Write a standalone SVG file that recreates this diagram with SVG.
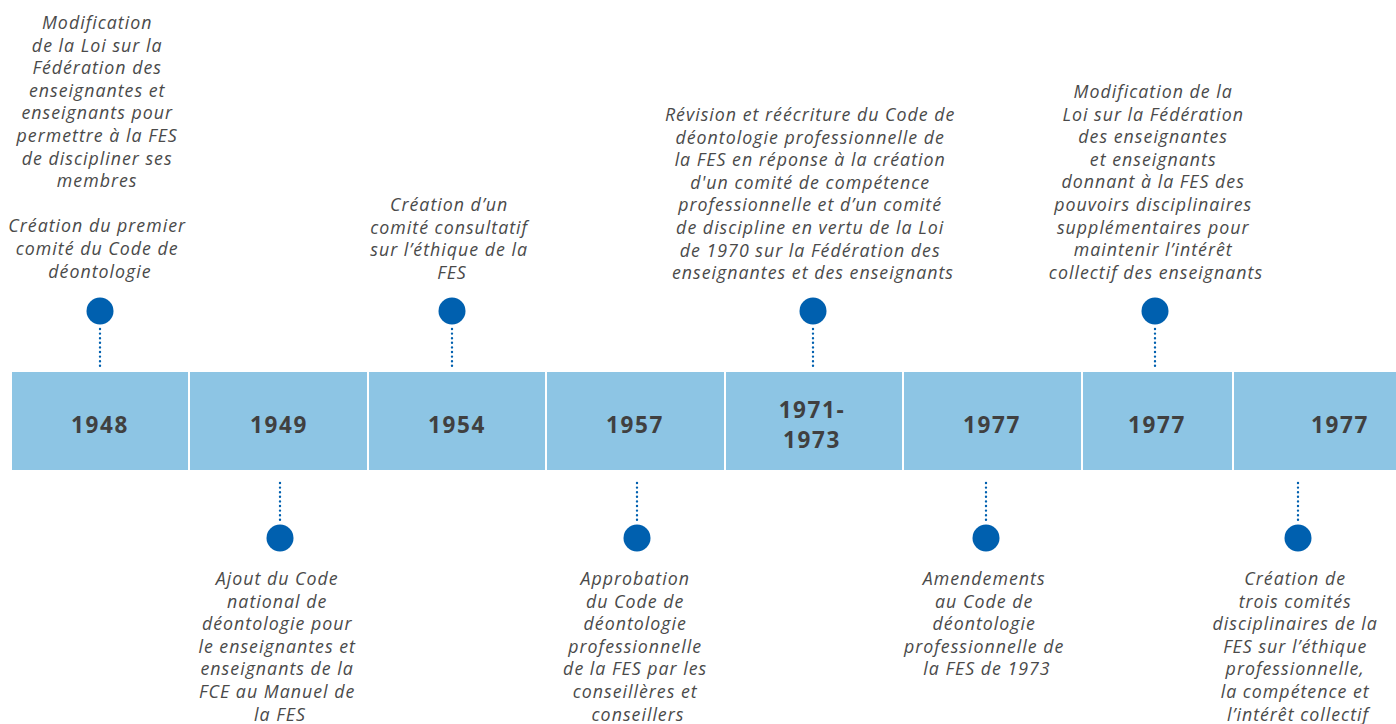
<svg xmlns="http://www.w3.org/2000/svg" width="1396" height="724" viewBox="0 0 1396 724">
<style>
.seg{fill:#8DC5E4}
.yr{font-family:"Open Sans","Liberation Sans",sans-serif;font-weight:700;font-size:22.5px;fill:#404040;text-anchor:middle;letter-spacing:1.6px}
.t{font-family:"Open Sans","Liberation Sans",sans-serif;font-style:italic;font-size:17.8px;fill:#4a4a4a;text-anchor:middle;letter-spacing:1px}
.dot{fill:#0060AF}
.con{stroke:#0060AF;stroke-width:2.4;stroke-dasharray:0 4.6;stroke-linecap:round;fill:none}
</style>
<rect width="1396" height="724" fill="#fff"/>
<g id="band">
<rect class="seg" x="12" y="372" width="176" height="98"/>
<rect class="seg" x="190" y="372" width="177" height="98"/>
<rect class="seg" x="369" y="372" width="176" height="98"/>
<rect class="seg" x="547" y="372" width="177" height="98"/>
<rect class="seg" x="726" y="372" width="176" height="98"/>
<rect class="seg" x="904" y="372" width="177" height="98"/>
<rect class="seg" x="1083" y="372" width="149" height="98"/>
<rect class="seg" x="1234" y="372" width="162" height="98"/>
</g>
<g id="connectors">
<line class="con" x1="100" y1="329" x2="100" y2="367"/>
<line class="con" x1="452" y1="329" x2="452" y2="367"/>
<line class="con" x1="813" y1="329" x2="813" y2="367"/>
<line class="con" x1="1155" y1="329" x2="1155" y2="367"/>
<line class="con" x1="280" y1="483" x2="280" y2="521"/>
<line class="con" x1="637" y1="483" x2="637" y2="521"/>
<line class="con" x1="986" y1="483" x2="986" y2="521"/>
<line class="con" x1="1298" y1="483" x2="1298" y2="521"/>
</g>
<g id="n1948">
<text class="yr" x="100" y="433">1948</text>
<circle class="dot" cx="100" cy="311" r="13.5"/>
<text class="t" x="100" y="29">
<tspan x="100">Modification</tspan>
<tspan x="100" dy="22.6">de la Loi sur la</tspan>
<tspan x="100" dy="22.6">Fédération des</tspan>
<tspan x="100" dy="22.6">enseignantes et</tspan>
<tspan x="100" dy="22.6">enseignants pour</tspan>
<tspan x="100" dy="22.6">permettre à la FES</tspan>
<tspan x="100" dy="22.6">de discipliner ses</tspan>
<tspan x="100" dy="22.6">membres</tspan>
<tspan x="100" dy="45.2">Création du premier</tspan>
<tspan x="100" dy="22.6">comité du Code de</tspan>
<tspan x="100" dy="22.6">déontologie</tspan>
</text>
</g>
<g id="n1949">
<text class="yr" x="279" y="433">1949</text>
<circle class="dot" cx="280" cy="538" r="13.5"/>
<text class="t" x="280" y="585">
<tspan x="280">Ajout du Code</tspan>
<tspan x="280" dy="22.6">national de</tspan>
<tspan x="280" dy="22.6">déontologie pour</tspan>
<tspan x="280" dy="22.6">le enseignantes et</tspan>
<tspan x="280" dy="22.6">enseignants de la</tspan>
<tspan x="280" dy="22.6">FCE au Manuel de</tspan>
<tspan x="280" dy="22.6">la FES</tspan>
</text>
</g>
<g id="n1954">
<text class="yr" x="457" y="433">1954</text>
<circle class="dot" cx="452" cy="311" r="13.5"/>
<text class="t" x="452" y="211">
<tspan x="452">Création d’un</tspan>
<tspan x="452" dy="22.6">comité consultatif</tspan>
<tspan x="452" dy="22.6">sur l’éthique de la</tspan>
<tspan x="452" dy="22.6">FES</tspan>
</text>
</g>
<g id="n1957">
<text class="yr" x="635" y="433">1957</text>
<circle class="dot" cx="637" cy="538" r="13.5"/>
<text class="t" x="638" y="585">
<tspan x="638">Approbation</tspan>
<tspan x="638" dy="22.6">du Code de</tspan>
<tspan x="638" dy="22.6">déontologie</tspan>
<tspan x="638" dy="22.6">professionnelle</tspan>
<tspan x="638" dy="22.6">de la FES par les</tspan>
<tspan x="638" dy="22.6">conseillères et</tspan>
<tspan x="638" dy="22.6">conseillers</tspan>
</text>
</g>
<g id="n1971">
<text class="yr" x="812" y="418">1971-</text>
<text class="yr" x="812" y="448">1973</text>
<circle class="dot" cx="813" cy="311" r="13.5"/>
<text class="t" x="813" y="121">
<tspan x="813">Révision et réécriture du Code de</tspan>
<tspan x="813" dy="22.6">déontologie professionnelle de</tspan>
<tspan x="813" dy="22.6">la FES en réponse à la création</tspan>
<tspan x="813" dy="22.6">d'un comité de compétence</tspan>
<tspan x="813" dy="22.6">professionnelle et d’un comité</tspan>
<tspan x="813" dy="22.6">de discipline en vertu de la Loi</tspan>
<tspan x="813" dy="22.6">de 1970 sur la Fédération des</tspan>
<tspan x="813" dy="22.6">enseignantes et des enseignants</tspan>
</text>
</g>
<g id="n1977a">
<text class="yr" x="992" y="433">1977</text>
<circle class="dot" cx="986" cy="538" r="13.5"/>
<text class="t" x="987" y="585">
<tspan x="987">Amendements</tspan>
<tspan x="987" dy="22.6">au Code de</tspan>
<tspan x="987" dy="22.6">déontologie</tspan>
<tspan x="987" dy="22.6">professionnelle de</tspan>
<tspan x="987" dy="22.6">la FES de 1973</tspan>
</text>
</g>
<g id="n1977b">
<text class="yr" x="1157" y="433">1977</text>
<circle class="dot" cx="1155" cy="311" r="13.5"/>
<text class="t" x="1156" y="98">
<tspan x="1156">Modification de la</tspan>
<tspan x="1156" dy="22.6">Loi sur la Fédération</tspan>
<tspan x="1156" dy="22.6">des enseignantes</tspan>
<tspan x="1156" dy="22.6">et enseignants</tspan>
<tspan x="1156" dy="22.6">donnant à la FES des</tspan>
<tspan x="1156" dy="22.6">pouvoirs disciplinaires</tspan>
<tspan x="1156" dy="22.6">supplémentaires pour</tspan>
<tspan x="1156" dy="22.6">maintenir l’intérêt</tspan>
<tspan x="1156" dy="22.6">collectif des enseignants</tspan>
</text>
</g>
<g id="n1977c">
<text class="yr" x="1340" y="433">1977</text>
<circle class="dot" cx="1298" cy="538" r="13.5"/>
<text class="t" x="1298" y="585">
<tspan x="1298">Création de</tspan>
<tspan x="1298" dy="22.6">trois comités</tspan>
<tspan x="1298" dy="22.6">disciplinaires de la</tspan>
<tspan x="1298" dy="22.6">FES sur l’éthique</tspan>
<tspan x="1298" dy="22.6">professionnelle,</tspan>
<tspan x="1298" dy="22.6">la compétence et</tspan>
<tspan x="1298" dy="22.6">l’intérêt collectif</tspan>
</text>
</g>
</svg>
